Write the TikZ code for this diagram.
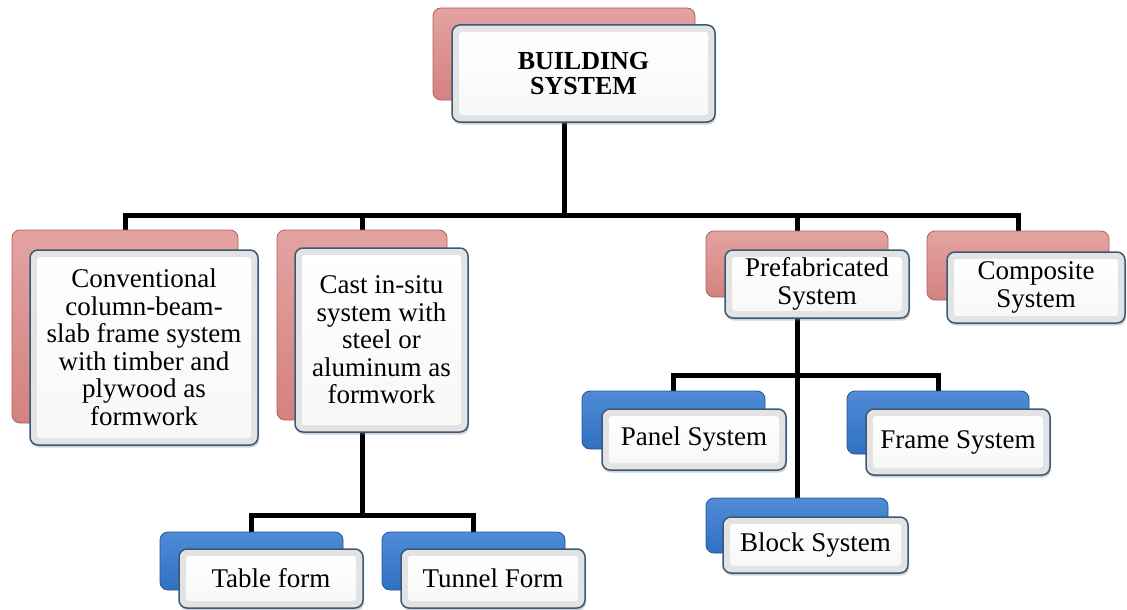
\documentclass[tikz,border=0pt]{standalone}
\usepackage{fontspec}
\setmainfont{Liberation Serif}
\usetikzlibrary{shadows}
\definecolor{pinkbk}{HTML}{D4827F}
\definecolor{pinktop}{HTML}{E3A3A1}
\definecolor{pinkedge}{HTML}{B05F5D}
\definecolor{bluebk}{HTML}{3171C2}
\definecolor{bluetop}{HTML}{4F8BD6}
\definecolor{blueedge}{HTML}{255596}
\definecolor{frontedge}{HTML}{3A5878}
\pgfdeclarelayer{bg}
\pgfsetlayers{bg,main}
\begin{document}
\begin{tikzpicture}[x=1pt,y=-1pt,
  pinkbox/.style={rounded corners=8pt, draw=pinkedge, line width=0.8pt, top color=pinktop, bottom color=pinkbk, inner sep=0pt},
  bluebox/.style={rounded corners=8pt, draw=blueedge, line width=0.8pt, top color=bluetop, bottom color=bluebk, inner sep=0pt},
  frontbox/.style={rounded corners=8pt, draw=frontedge, line width=1.5pt, fill=black!11,
    inner sep=0pt, align=center, font=\fontsize{27}{27.5}\selectfont,
    path picture={\fill[rounded corners=3pt, top color=white, bottom color=black!3]
      ([xshift=7pt,yshift=-7pt]path picture bounding box.north west) rectangle
      ([xshift=-7pt,yshift=7pt]path picture bounding box.south east);},
    drop shadow={shadow xshift=1pt, shadow yshift=-2.5pt, opacity=0.35}},
  conn/.style={line width=5pt, black, line join=miter}]
\useasboundingbox (0,0) rectangle (1127,610);

% top
\node[pinkbox, minimum width=262pt, minimum height=92pt] (b0) at (564,54) {};
\node[frontbox, minimum width=263pt, minimum height=97pt, font=\bfseries\fontsize{26}{24.5}\selectfont] (f0) at (583.5,73.5) {BUILDING\\SYSTEM};

% level 1
\node[pinkbox, minimum width=226pt, minimum height=193pt] (b1) at (125,326.5) {};
\node[frontbox, minimum width=228pt, minimum height=195pt] (f1) at (144,347.5) {Conventional\\column-beam-\\slab frame system\\with timber and\\plywood as\\formwork};

\node[pinkbox, minimum width=170pt, minimum height=190pt] (b2) at (362,325) {};
\node[frontbox, minimum width=173pt, minimum height=184pt] (f2) at (381.5,340) {Cast in-situ\\system with\\steel or\\aluminum as\\formwork};

\node[pinkbox, minimum width=182pt, minimum height=66pt] (b3) at (797,264) {};
\node[frontbox, minimum width=184pt, minimum height=68pt, font=\fontsize{27}{28.5}\selectfont] (f3) at (817,284) {Prefabricated\\System};

\node[pinkbox, minimum width=182pt, minimum height=69pt] (b4) at (1018,265.5) {};
\node[frontbox, minimum width=178pt, minimum height=71pt, font=\fontsize{27}{28.5}\selectfont] (f4) at (1036,287.5) {Composite\\System};

% level 2 (prefabricated)
\node[bluebox, minimum width=183pt, minimum height=58pt] (b5) at (673.5,420) {};
\node[frontbox, minimum width=184pt, minimum height=61pt] (f5) at (694,439.5) {Panel System};

\node[bluebox, minimum width=182pt, minimum height=63pt] (b6) at (938,422.5) {};
\node[frontbox, minimum width=184pt, minimum height=66pt] (f6) at (958,442) {Frame System};

\node[bluebox, minimum width=182pt, minimum height=55pt] (b7) at (797,525.5) {};
\node[frontbox, minimum width=185pt, minimum height=56pt] (f7) at (815.5,545) {Block System};

% level 2 (cast in-situ)
\node[bluebox, minimum width=183pt, minimum height=58pt] (b8) at (251.5,561) {};
\node[frontbox, minimum width=184pt, minimum height=59pt] (f8) at (271,578.5) {Table form};

\node[bluebox, minimum width=183pt, minimum height=58pt] (b9) at (473.5,561) {};
\node[frontbox, minimum width=184pt, minimum height=59pt] (f9) at (493,578.5) {Tunnel Form};

% connectors
\coordinate (bus0) at (564,215);
\coordinate (bus1) at (362,515);
\coordinate (bus2) at (797,375);
\begin{pgfonlayer}{bg}
\draw[conn] (b0.center) -- (bus0);
\draw[conn] (bus0) -| (b1.center);
\draw[conn] (bus0) -| (b2.center);
\draw[conn] (bus0) -| (b3.center);
\draw[conn] (bus0) -| (b4.center);
\draw[conn] (b3.center) -- (b7.center);
\draw[conn] (bus2) -| (b5.center);
\draw[conn] (bus2) -| (b6.center);
\draw[conn] (b2.center) -- (bus1);
\draw[conn] (bus1) -| (b8.center);
\draw[conn] (bus1) -| (b9.center);
\end{pgfonlayer}
\end{tikzpicture}
\end{document}
